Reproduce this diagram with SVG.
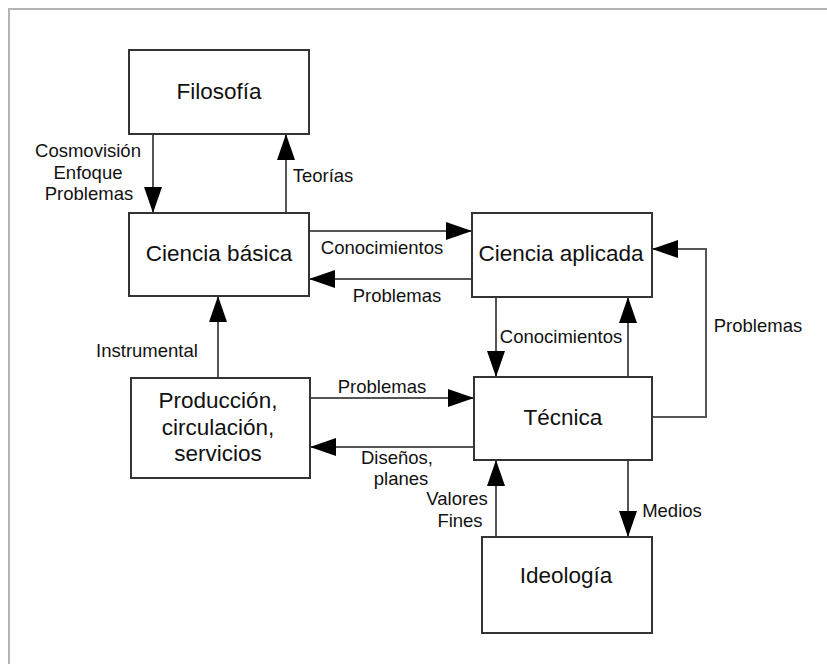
<svg xmlns="http://www.w3.org/2000/svg" width="827" height="664" viewBox="0 0 827 664">
<defs>
<style>
.box{fill:#fff;stroke:#333;stroke-width:2}
.nt{font-family:"Liberation Sans",Arial,sans-serif;font-size:22.5px;fill:#111;text-anchor:middle}
.lb{font-family:"Liberation Sans",Arial,sans-serif;font-size:18.5px;fill:#111;text-anchor:middle}
.cn{fill:none;stroke:#555;stroke-width:2;marker-end:url(#ah)}
</style>
<marker id="ah" markerUnits="userSpaceOnUse" markerWidth="26" markerHeight="18" refX="26" refY="9" orient="auto">
<path d="M0,0 L26,9 L0,18 Z" fill="#000"/>
</marker>
</defs>
<rect width="827" height="664" fill="#fff"/>
<path d="M9,664 V9 H827" fill="none" stroke="#b4b4b4" stroke-width="2"/>
<g id="connectors">
<path class="cn" d="M153,134 V213"/>
<path class="cn" d="M286,213 V134"/>
<path class="cn" d="M309,231 H472"/>
<path class="cn" d="M472,279 H309"/>
<path class="cn" d="M496,297 V377"/>
<path class="cn" d="M628,377 V297"/>
<path class="cn" d="M652,417 H706 V249 H652"/>
<path class="cn" d="M310,398 H474"/>
<path class="cn" d="M474,447 H310"/>
<path class="cn" d="M496,537 V460"/>
<path class="cn" d="M628,460 V537"/>
<path class="cn" d="M218,378 V296"/>
<text class="lb" x="88" y="157">Cosmovisión</text>
<text class="lb" x="88" y="179">Enfoque</text>
<text class="lb" x="89" y="200">Problemas</text>
<text class="lb" x="323" y="182">Teorías</text>
<text class="lb" x="382" y="254">Conocimientos</text>
<text class="lb" x="397" y="302">Problemas</text>
<text class="lb" x="561" y="343">Conocimientos</text>
<text class="lb" x="758" y="332">Problemas</text>
<text class="lb" x="147" y="357">Instrumental</text>
<text class="lb" x="382" y="393">Problemas</text>
<text class="lb" x="397" y="464">Diseños,</text>
<text class="lb" x="401" y="485">planes</text>
<text class="lb" x="457" y="505">Valores</text>
<text class="lb" x="460" y="527">Fines</text>
<text class="lb" x="672" y="517">Medios</text>
</g>
<g id="filosofia">
<rect class="box" x="129" y="50" width="180" height="84"/>
<text class="nt" x="219" y="99">Filosofía</text>
</g>
<g id="ciencia-basica">
<rect class="box" x="129" y="213" width="180" height="83"/>
<text class="nt" x="219" y="261">Ciencia básica</text>
</g>
<g id="ciencia-aplicada">
<rect class="box" x="472" y="213" width="180" height="84"/>
<text class="nt" x="561" y="261">Ciencia aplicada</text>
</g>
<g id="produccion">
<rect class="box" x="131" y="378" width="179" height="100"/>
<text class="nt" x="218" y="408">Producción,</text>
<text class="nt" x="218" y="435">circulación,</text>
<text class="nt" x="218" y="461">servicios</text>
</g>
<g id="tecnica">
<rect class="box" x="474" y="377" width="178" height="83"/>
<text class="nt" x="563" y="425">Técnica</text>
</g>
<g id="ideologia">
<rect class="box" x="482" y="537" width="170" height="96"/>
<text class="nt" x="566" y="583">Ideología</text>
</g>
</svg>
